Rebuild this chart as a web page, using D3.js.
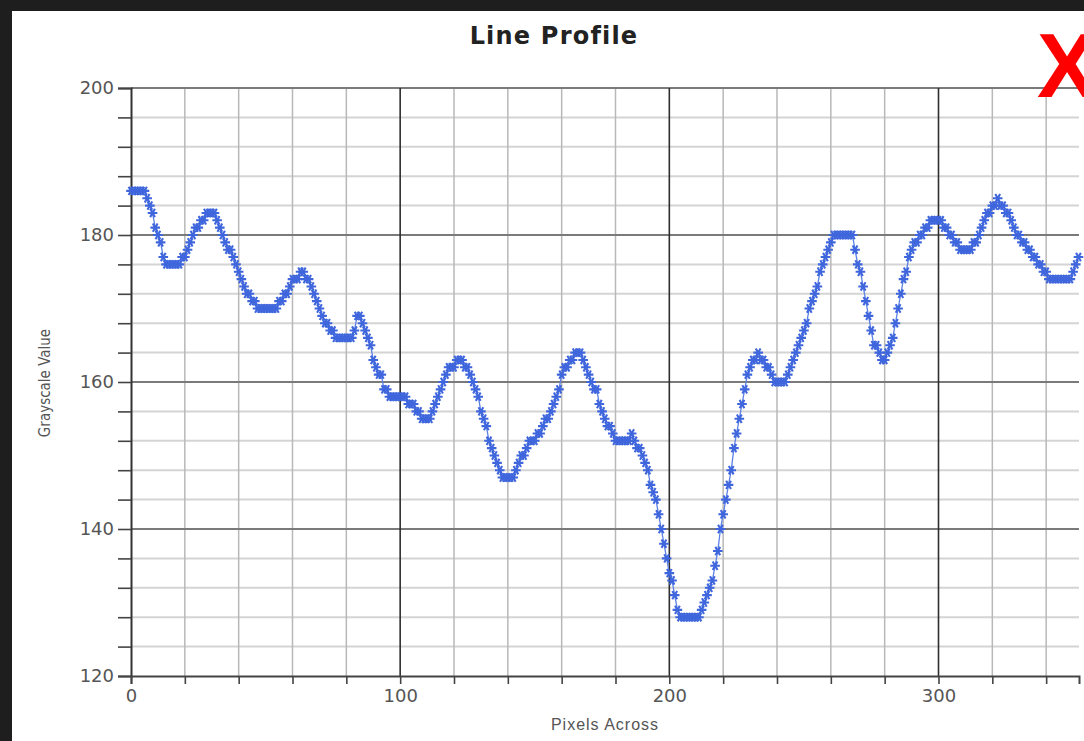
<!DOCTYPE html>
<html>
<head>
<meta charset="utf-8">
<script src="https://cdn.jsdelivr.net/npm/d3@7"></script>
<style>
  html, body { margin: 0; padding: 0; background: #1e1e1e; }
  svg { display: block; }
</style>
</head>
<body>
<svg id="chart" width="1084" height="741"></svg>
<script>
// Grayscale value sampled at every pixel along the profile line (pixel 0 .. 352)
const grayscale = [
  186,186,186,186,186,186,185,184,183,181,
  180,179,177,176,176,176,176,176,176,177,
  177,178,179,180,181,181,182,182,183,183,
  183,183,182,181,180,179,178,178,177,176,
  175,174,173,172,172,171,171,170,170,170,
  170,170,170,170,170,171,171,172,172,173,
  174,174,174,175,175,174,174,173,172,171,
  170,169,168,168,167,167,166,166,166,166,
  166,166,166,167,169,169,168,167,166,165,
  163,162,161,161,159,159,158,158,158,158,
  158,158,158,157,157,157,156,156,155,155,
  155,155,156,157,158,159,160,161,162,162,
  162,163,163,163,162,162,161,160,159,158,
  156,155,154,152,151,150,149,148,147,147,
  147,147,147,148,149,150,150,151,152,152,
  152,153,153,154,155,155,156,157,158,159,
  161,162,162,163,163,164,164,164,163,162,
  161,160,159,159,157,156,155,154,154,153,
  152,152,152,152,152,152,153,152,151,151,
  150,149,148,146,145,144,142,140,138,136,
  134,133,131,129,128,128,128,128,128,128,
  128,128,129,130,131,132,133,135,137,140,
  142,144,146,148,151,153,155,157,159,161,
  162,163,163,164,163,163,162,162,161,160,
  160,160,160,160,161,162,163,164,165,166,
  167,168,170,171,172,173,175,176,177,178,
  179,180,180,180,180,180,180,180,180,178,
  176,175,173,171,169,167,165,165,164,163,
  163,164,165,166,168,170,172,174,175,177,
  178,179,179,180,180,181,181,182,182,182,
  182,182,181,181,180,180,179,179,178,178,
  178,178,178,179,179,180,181,182,183,183,
  184,184,185,184,184,183,183,182,181,180,
  180,179,179,178,178,177,177,176,176,175,
  175,174,174,174,174,174,174,174,174,174,
  175,176,177
];

// Axis labels and tick values
const chartTitle = "Line Profile";
const xAxisTitle = "Pixels Across";
const yAxisTitle = "Grayscale Value";
const xTickLabels = [0, 100, 200, 300];
const yTickLabels = [120, 140, 160, 180, 200];
const xMinorStep = 20;
const yMinorStep = 4;

const svg = d3.select("#chart");
const W = 1084, H = 741;

// Window frame and white canvas
svg.append("rect").attr("width", W).attr("height", H).attr("fill", "#1e1e1e");
svg.append("rect").attr("x", 12).attr("y", 11).attr("width", W - 12).attr("height", H - 11).attr("fill", "#ffffff");

const plot = { left: 131, right: 1079, top: 88, bottom: 676 };
const xMax = 352.2;

const x = d3.scaleLinear().domain([0, xMax]).range([plot.left, plot.right]);
const y = d3.scaleLinear().domain([120, 200]).range([plot.bottom, plot.top]);

const xMinor = d3.range(0, xMax, xMinorStep);
const yMinor = d3.range(120, 200.001, yMinorStep);

// Grid: minor horizontal lines
const grid = svg.append("g");
grid.selectAll("line.hmin")
  .data(yMinor.filter(v => !yTickLabels.includes(v)))
  .join("line")
  .attr("x1", plot.left).attr("x2", plot.right)
  .attr("y1", d => y(d)).attr("y2", d => y(d))
  .attr("stroke", "#d4d4d4").attr("stroke-width", 2);

// Grid: minor vertical lines
grid.selectAll("line.vmin")
  .data(xMinor.filter(v => !xTickLabels.includes(v)))
  .join("line")
  .attr("x1", d => x(d)).attr("x2", d => x(d))
  .attr("y1", plot.top).attr("y2", plot.bottom)
  .attr("stroke", "#b8b8b8").attr("stroke-width", 1.5);

// Grid: major horizontal lines
grid.selectAll("line.hmaj")
  .data(yTickLabels.filter(v => v !== 120))
  .join("line")
  .attr("x1", plot.left).attr("x2", plot.right)
  .attr("y1", d => y(d)).attr("y2", d => y(d))
  .attr("stroke", "#7a7a7a").attr("stroke-width", 2);

// Grid: major vertical lines
grid.selectAll("line.vmaj")
  .data(xTickLabels.filter(v => v !== 0))
  .join("line")
  .attr("x1", d => x(d)).attr("x2", d => x(d))
  .attr("y1", plot.top).attr("y2", plot.bottom)
  .attr("stroke", "#2e2e2e").attr("stroke-width", 1.6);

// Y axis with ticks every 4 units, labels every 20
const yAxis = d3.axisLeft(y)
  .tickValues(yMinor)
  .tickSize(13)
  .tickPadding(4)
  .tickFormat(d => yTickLabels.includes(d) ? d : "");
const gy = svg.append("g").attr("transform", `translate(${plot.left},0)`).call(yAxis);
gy.select(".domain").attr("stroke", "#333").attr("stroke-width", 2);
gy.selectAll(".tick line").attr("stroke", "#444").attr("stroke-width", 1.6);
gy.selectAll(".tick text")
  .attr("fill", "#555").attr("font-family", "DejaVu Sans, sans-serif").attr("font-size", 18);

// X axis with ticks every 20, labels every 100
const xAxis = d3.axisBottom(x)
  .tickValues(xMinor)
  .tickSize(8)
  .tickPadding(5)
  .tickFormat(d => xTickLabels.includes(d) ? d : "");
const gx = svg.append("g").attr("transform", `translate(0,${plot.bottom})`).call(xAxis);
gx.select(".domain").attr("stroke", "#444").attr("stroke-width", 2);
gx.selectAll(".tick line").attr("stroke", "#444").attr("stroke-width", 1.6);
gx.selectAll(".tick text")
  .attr("fill", "#555").attr("font-family", "DejaVu Sans, sans-serif").attr("font-size", 18);

// Profile line
const pts = grayscale.map((v, i) => [i, v]);
svg.append("path")
  .datum(pts)
  .attr("fill", "none")
  .attr("stroke", "#5b80e6")
  .attr("stroke-width", 1.3)
  .attr("d", d3.line().x(d => x(d[0])).y(d => y(d[1])));

// Asterisk markers: one horizontal bar plus two diagonals
const r = 4.8;
const a = Math.PI / 3;
const starPath = `M${-r},0L${r},0` +
  `M${-r * Math.cos(a)},${-r * Math.sin(a)}L${r * Math.cos(a)},${r * Math.sin(a)}` +
  `M${-r * Math.cos(a)},${r * Math.sin(a)}L${r * Math.cos(a)},${-r * Math.sin(a)}`;
svg.append("g")
  .selectAll("path")
  .data(pts)
  .join("path")
  .attr("transform", d => `translate(${x(d[0])},${y(d[1])})`)
  .attr("d", starPath)
  .attr("fill", "none")
  .attr("stroke", "#3f66dc")
  .attr("stroke-width", 2.1);

// Title and axis titles
svg.append("text")
  .attr("x", 554).attr("y", 44)
  .attr("text-anchor", "middle")
  .attr("font-family", "DejaVu Sans, sans-serif")
  .attr("font-weight", "bold")
  .attr("font-size", 24)
  .attr("letter-spacing", 1.2)
  .attr("fill", "#222")
  .text(chartTitle);

svg.append("text")
  .attr("x", 605).attr("y", 730)
  .attr("text-anchor", "middle")
  .attr("font-family", "Liberation Sans, Arial, sans-serif")
  .attr("font-size", 16)
  .attr("letter-spacing", 1)
  .attr("fill", "#555")
  .text(xAxisTitle);

svg.append("text")
  .attr("transform", "translate(50,383) rotate(-90)")
  .attr("text-anchor", "middle")
  .attr("font-family", "Liberation Sans Narrow, DejaVu Sans Condensed, sans-serif")
  .attr("font-size", 15)
  .attr("fill", "#555")
  .text(yAxisTitle);

// Red close mark
svg.append("text")
  .attr("x", 1037).attr("y", 97)
  .attr("font-family", "Liberation Sans, Arial, sans-serif")
  .attr("font-weight", "bold")
  .attr("font-size", 90)
  .attr("fill", "#ff0000")
  .text("X");
</script>
</body>
</html>
